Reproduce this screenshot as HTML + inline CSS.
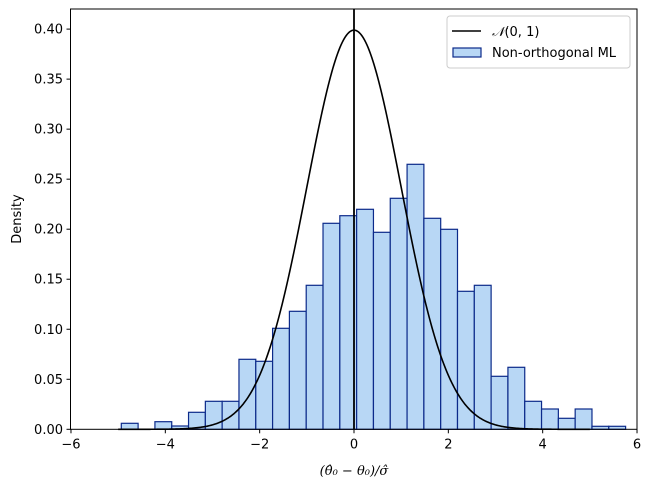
<!DOCTYPE html>
<html><head><meta charset="utf-8"><style>
body{margin:0;background:#fff}
svg{display:block;font-family:"DejaVu Sans","Liberation Sans",sans-serif}
</style></head><body>
<svg id="s" width="651" height="491" viewBox="0 0 651 491" xmlns="http://www.w3.org/2000/svg">
<rect width="651" height="491" fill="#fff"/>
<g id="bars" fill="#b8d7f5" stroke="#0c2a8a" stroke-width="1.2"></g>
<path id="curve" fill="none" stroke="#000" stroke-width="1.6"/>
<line x1="354" y1="9" x2="354" y2="429.3" stroke="#000" stroke-width="1.8"/>
<rect x="70.5" y="9" width="566.5" height="420.3" fill="none" stroke="#000" stroke-width="1"/>
<g id="ticks" stroke="#000" stroke-width="1"></g>
<g id="labels" font-size="13" fill="#000"></g>
<text x="354" y="475" font-size="13" text-anchor="middle" font-family="DejaVu Serif,serif" font-style="italic">(θ̂₀ − θ₀)/σ̂</text>
<text transform="translate(21,219) rotate(-90)" font-size="13" text-anchor="middle">Density</text>
<rect x="447" y="16" width="183" height="52" rx="3" fill="#fff" fill-opacity="0.8" stroke="#ccc"/>
<line x1="452" y1="31" x2="481" y2="31" stroke="#000" stroke-width="1.6"/>
<rect x="453" y="48" width="28" height="9" fill="#b8d7f5" stroke="#0c2a8a" stroke-width="1.2"/>
<text x="492" y="36" font-size="13"><tspan font-family="DejaVu Serif,serif" font-style="italic">𝒩</tspan>(0, 1)</text>
<text x="492" y="57" font-size="13">Non-orthogonal ML</text>
</svg>
<script>
var tops=[423.3,429.3,421.7,426,412.3,401.3,401.3,359.3,361.3,328.3,311.3,285.3,223.3,215.7,209.3,232.3,198.3,164.3,218.3,229.3,291.3,285.3,376.3,367.3,401.3,409,418.3,409,426.3,426.3];
var g=document.getElementById('bars'),h='';
var x0=121.3,w=16.81,base=429.3;
tops.forEach(function(t,i){if(t>=base)return;h+='<rect x="'+(x0+i*w).toFixed(2)+'" y="'+t+'" width="'+w.toFixed(2)+'" height="'+(base-t).toFixed(2)+'"/>';});
g.innerHTML=h;
var px=function(v){return 354+v*47.17},py=function(d){return base-d*1000.5};
var d='';for(var i=0;i<=400;i++){var v=-5+i*10/400;var y=Math.exp(-v*v/2)/Math.sqrt(2*Math.PI);d+=(i?'L':'M')+px(v).toFixed(2)+','+py(y).toFixed(2);}
document.getElementById('curve').setAttribute('d',d);
var tk='',lb='';
[-6,-4,-2,0,2,4,6].forEach(function(v){var x=px(v);tk+='<line x1="'+x+'" y1="'+base+'" x2="'+x+'" y2="'+(base+4)+'"/>';lb+='<text x="'+x+'" y="'+(base+19)+'" text-anchor="middle">'+(v<0?'\u2212'+(-v):v)+'</text>';});
for(var k=0;k<=8;k++){var v=k*0.05,y=py(v);tk+='<line x1="70.5" y1="'+y+'" x2="66.5" y2="'+y+'"/>';lb+='<text x="63" y="'+(y+4.5)+'" text-anchor="end">'+v.toFixed(2)+'</text>';}
document.getElementById('ticks').innerHTML=tk;document.getElementById('labels').innerHTML=lb;
</script>
</body></html>
